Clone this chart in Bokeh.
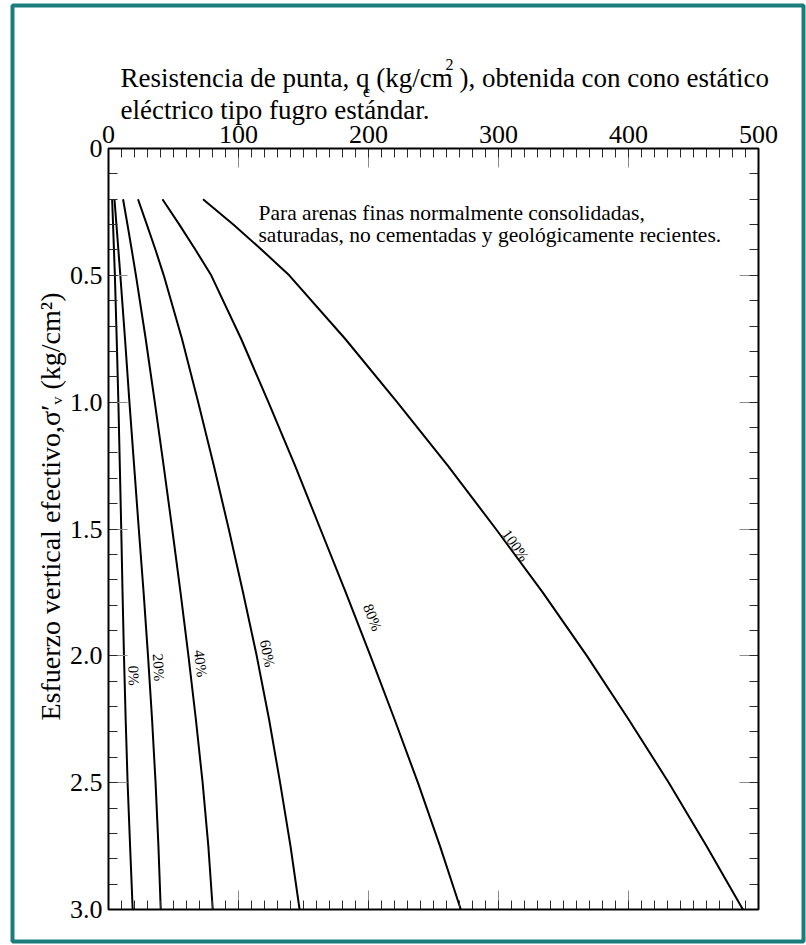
import math
from bokeh.plotting import figure
from bokeh.models import (Range1d, LinearAxis, FixedTicker, Label, BoxAnnotation,
                          PrintfTickFormatter, CustomJSTickFormatter)
from bokeh.embed import file_html
from bokeh.resources import INLINE

# ---------------- data ----------------
sigma_v = [0.2, 0.3, 0.4, 0.5, 0.75, 1.0, 1.25, 1.5, 1.75, 2.0, 2.25, 2.5, 2.75, 3.0]
qc_dr0 = [2.8, 3.5, 4.2, 4.9, 6.3, 7.6, 8.7, 9.8, 10.8, 11.9, 13.2, 14.7, 16.6, 18.6]
qc_dr20 = [4.6, 6.1, 7.6, 9.1, 12.7, 16.1, 19.7, 23.3, 27.0, 30.4, 33.5, 36.2, 38.4, 40.2]
qc_dr40 = [11.2, 14.6, 17.9, 21.1, 28.6, 35.6, 42.4, 49.0, 55.4, 61.5, 67.2, 72.4, 76.8, 80.2]
qc_dr60 = [22.7, 29.5, 36.2, 42.5, 56.5, 69.0, 81.0, 92.5, 103.5, 114.0, 123.5, 132.0, 140.0, 147.0]
qc_dr80 = [41.5, 54.5, 67.0, 79.0, 102.0, 123.0, 143.5, 163.0, 182.5, 201.5, 220.0, 238.0, 255.0, 271.0]
qc_dr100 = [72.7, 96.0, 118.0, 139.0, 182.0, 222.0, 261.0, 298.0, 334.0, 368.0, 400.0, 431.0, 460.0, 488.0]
curve_labels = ["0%", "20%", "40%", "60%", "80%", "100%"]
series = [qc_dr0, qc_dr20, qc_dr40, qc_dr60, qc_dr80, qc_dr100]

x_major = [0, 100, 200, 300, 400, 500]
x_minor = list(range(0, 501, 10))
y_major = [0.0, 0.5, 1.0, 1.5, 2.0, 2.5, 3.0]
y_minor = [i / 10 for i in range(0, 31)]
X_MIN, X_MAX, Y_MIN, Y_MAX = 0, 500, 0.0, 3.0

title_line1 = "Resistencia de punta, q (kg/cm ), obtenida con cono estático"
title_line2 = "eléctrico tipo fugro estándar."
ylabel_text = "Esfuerzo vertical efectivo,σ′ᵥ (kg/cm²)"
note_line1 = "Para arenas finas normalmente consolidadas,"
note_line2 = "saturadas, no cementadas y geológicamente recientes."

FONT = "Liberation Serif"

# ---------------- layout: pixel -> data mapping ----------------
W, H = 806, 945
FL, FR, FT, FB = 108, 758, 148, 909   # plot box edges in pixels


def dx(px):
    return X_MIN + (px - FL) * (X_MAX - X_MIN) / (FR - FL)


def dy(py):
    return Y_MIN + (py - FT) * (Y_MAX - Y_MIN) / (FB - FT)


p = figure(width=W, height=H,
           x_range=Range1d(dx(0), dx(W)), y_range=Range1d(dy(H), dy(0)),
           output_backend="svg", toolbar_location=None,
           x_axis_location=None, y_axis_location=None,
           min_border=0, min_border_left=0, min_border_right=0,
           min_border_top=0, min_border_bottom=0)
p.grid.visible = False
p.background_fill_color = "white"
p.border_fill_color = "white"
p.outline_line_color = None

tick_style = dict(axis_line_color=None, major_tick_out=0, minor_tick_out=0,
                  major_tick_in=19, minor_tick_in=9,
                  major_tick_line_color="#8c8c8c", minor_tick_line_color="#2a2a2a",
                  major_tick_line_width=1, minor_tick_line_width=1)
blank = CustomJSTickFormatter(code="return ''")

top = LinearAxis(ticker=FixedTicker(ticks=x_major, minor_ticks=x_minor),
                 fixed_location=Y_MIN,
                 major_label_text_font=FONT, major_label_text_font_size="26px",
                 major_label_text_color="black", major_label_standoff=6, **tick_style)
bottom = LinearAxis(ticker=FixedTicker(ticks=x_major, minor_ticks=x_minor),
                    fixed_location=Y_MAX, formatter=blank, **tick_style)
left = LinearAxis(ticker=FixedTicker(ticks=y_major, minor_ticks=y_minor),
                  fixed_location=X_MIN,
                  formatter=PrintfTickFormatter(format="%.1f"),
                  major_label_overrides={0: "0"},
                  major_label_text_font=FONT, major_label_text_font_size="26px",
                  major_label_text_color="black", major_label_standoff=6, **tick_style)
right = LinearAxis(ticker=FixedTicker(ticks=y_major, minor_ticks=y_minor),
                   fixed_location=X_MAX, formatter=blank, **tick_style)
p.add_layout(top, "above")
p.add_layout(bottom, "below")
p.add_layout(left, "left")
p.add_layout(right, "right")

# plot box
p.add_layout(BoxAnnotation(left=X_MIN, right=X_MAX, top=Y_MIN, bottom=Y_MAX,
                           fill_color=None, line_color="black", line_alpha=1.0,
                           line_width=2))

# ---------------- curves ----------------
for qc in series:
    p.line(qc, sigma_v, line_color="black", line_width=2)

# curve labels (center position in pixels, angle in degrees)
label_pos = [(133, 675, -88.4), (158, 667, -86.5), (200, 663, -83.7),
             (267, 653, -78.4), (372, 617, -68.7), (515, 545, -55.0)]
for txt, (px, py, ang) in zip(curve_labels, label_pos):
    p.add_layout(Label(x=dx(px), y=dy(py), text=txt, angle=math.radians(ang),
                       text_font=FONT, text_font_size="15px", text_color="black",
                       text_align="center", text_baseline="middle"))

# note inside the plot
for txt, base in [(note_line1, 212.5), (note_line2, 234.5)]:
    p.add_layout(Label(x=dx(258), y=dy(base), text=txt, text_font=FONT,
                       text_font_size="21.5px", text_color="black",
                       text_align="left", text_baseline="alphabetic"))

# title above the plot
TX, TB1, TB2 = 120, 77, 109
p.add_layout(Label(x=dx(TX), y=dy(TB1), text=title_line1, text_font=FONT,
                   text_font_size="27px", text_color="black",
                   text_align="left", text_baseline="alphabetic"))
p.add_layout(Label(x=dx(366), y=dy(TB1 + 14), text="c", text_font=FONT,
                   text_font_size="16px", text_color="black",
                   text_align="center", text_baseline="alphabetic"))
p.add_layout(Label(x=dx(445), y=dy(TB1 - 13), text="2", text_font=FONT,
                   text_font_size="16px", text_color="black",
                   text_align="left", text_baseline="alphabetic"))
p.add_layout(Label(x=dx(TX), y=dy(TB2), text=title_line2, text_font=FONT,
                   text_font_size="27px", text_color="black",
                   text_align="left", text_baseline="alphabetic"))

# y axis title
p.add_layout(Label(x=dx(50), y=dy(506), text=ylabel_text, angle=math.pi / 2,
                   text_font=FONT, text_font_size="28px", text_color="black",
                   text_align="center", text_baseline="middle"))

# teal border around the whole picture
p.add_layout(BoxAnnotation(left=dx(12), right=dx(803), top=dy(5), bottom=dy(941),
                           fill_color=None, line_color="#1b7c7c", line_alpha=1.0,
                           line_width=4))

open("out.html", "w").write(file_html(p, INLINE))
